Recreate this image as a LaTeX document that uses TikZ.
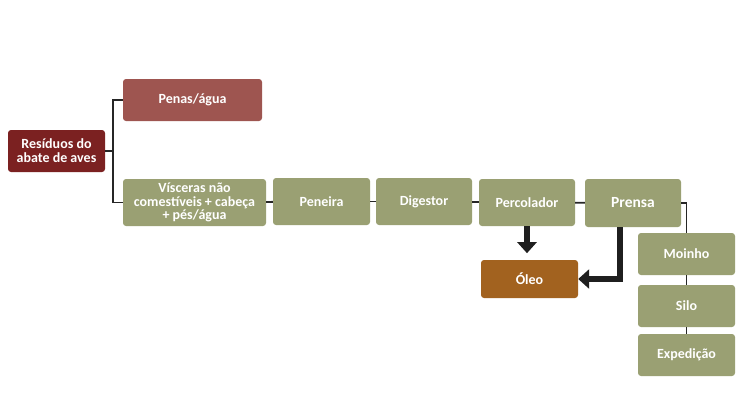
\documentclass[tikz,border=0pt]{standalone}
\usepackage{fontspec}
\setmainfont{Carlito}
\usetikzlibrary{arrows.meta}
\definecolor{vermelho}{HTML}{7B2121}
\definecolor{rosa}{HTML}{9E5550}
\definecolor{oliva}{HTML}{9AA073}
\definecolor{cobre}{HTML}{A2621F}
\tikzset{
  caixa/.style={rounded corners=3pt, text=white, font=\bfseries\fontsize{14}{13.8}\selectfont, align=center, inner sep=1pt},
  liga/.style={line width=1.8pt, draw=black!85},
  seta/.style={line width=6.5pt, draw=black!88, -{Triangle[length=11pt,width=19pt]}}
}
\begin{document}
\begin{tikzpicture}[x=1pt,y=-1pt]
  \useasboundingbox (0,0) rectangle (736,413);
  % Caixas
  \node[caixa, fill=vermelho, minimum width=97pt, minimum height=42pt] (res) at (56.5,151) {Resíduos do\\abate de aves};
  \node[caixa, fill=rosa, minimum width=139pt, minimum height=42pt] (pen) at (192.5,100) {Penas/água};
  \node[caixa, fill=oliva, minimum width=143pt, minimum height=47pt] (vis) at (194.5,202.5) {Vísceras não\\comestíveis + cabeça\\+ pés/água};
  \node[caixa, fill=oliva, minimum width=97pt, minimum height=47pt] (pnr) at (321.5,201.5) {Peneira};
  \node[caixa, fill=oliva, minimum width=96pt, minimum height=47pt] (dig) at (424,201.5) {Digestor};
  \node[caixa, fill=oliva, minimum width=96pt, minimum height=47pt] (per) at (527,202.5) {Percolador};
  \node[caixa, fill=oliva, minimum width=96pt, minimum height=48pt, font=\bfseries\fontsize{15.5}{16}\selectfont] (pre) at (633,203) {Prensa};
  \node[caixa, fill=cobre, minimum width=97pt, minimum height=38pt] (ole) at (529.5,279) {Óleo};
  \node[caixa, fill=oliva, minimum width=97pt, minimum height=42pt] (moi) at (686.5,254) {Moinho};
  \node[caixa, fill=oliva, minimum width=97pt, minimum height=42pt] (sil) at (686.5,306) {Silo};
  \node[caixa, fill=oliva, minimum width=97pt, minimum height=42pt] (exp) at (686.5,355) {Expedição};
  % Ligacoes
  \coordinate (ram) at (113,151);
  \draw[liga] (res.east) -- (ram);
  \draw[liga] (pen.west) -| (ram) |- (vis.west);
  \draw[liga] (vis) -- (pnr);
  \draw[liga] (pnr) -- (dig);
  \draw[liga] (dig) -- (per);
  \draw[liga] (per) -- (pre);
  \draw[liga] (pre.east) -| (moi.north);
  \draw[liga] (moi) -- (sil);
  \draw[liga] (sil) -- (exp);
  % Setas do oleo
  \draw[seta] (per.south) -- ++(0,27);
  \draw[seta] (pre.south west) ++(35,0) |- (ole.east);
\end{tikzpicture}
\end{document}
